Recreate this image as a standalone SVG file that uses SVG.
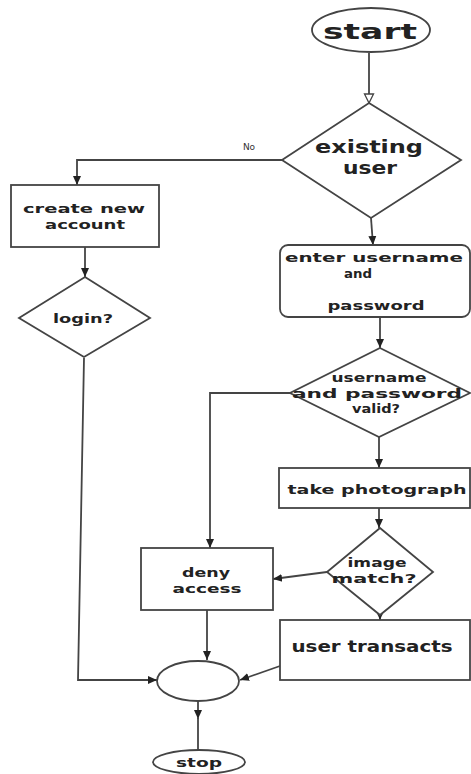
<svg xmlns="http://www.w3.org/2000/svg" width="471" height="774" viewBox="0 0 471 774">
<style>
.shape{fill:#fff;stroke:#444;stroke-width:1.8}
.conn{fill:none;stroke:#444;stroke-width:1.8}
.t{font-family:"DejaVu Sans",sans-serif;font-weight:bold;fill:#222;text-anchor:middle}
</style>
<defs>
<marker id="arr" markerUnits="userSpaceOnUse" markerWidth="10" markerHeight="10" refX="9" refY="5" orient="auto">
<path d="M0,1 L9,5 L0,9 Z" fill="#222"/>
</marker>
<marker id="hollow" markerUnits="userSpaceOnUse" markerWidth="12" markerHeight="12" refX="10" refY="6" orient="auto">
<path d="M1,1.5 L10,6 L1,10.5 Z" fill="#fff" stroke="#444" stroke-width="1.3"/>
</marker>
</defs>
<rect width="471" height="774" fill="#fff"/>
<g id="connectors">
<path class="conn" d="M369,53 L369,103" marker-end="url(#hollow)"/>
<path class="conn" d="M282,160 L77,160 L77,185" marker-end="url(#arr)"/>
<path class="conn" d="M85,247 L85,277" marker-end="url(#arr)"/>
<path class="conn" d="M84,358 L78,680 L157,680" marker-end="url(#arr)"/>
<path class="conn" d="M371,218 L373,245" marker-end="url(#arr)"/>
<path class="conn" d="M380,317 L380,348" marker-end="url(#arr)"/>
<path class="conn" d="M290,393 L210,393 L210,548" marker-end="url(#arr)"/>
<path class="conn" d="M379,437 L379,468" marker-end="url(#arr)"/>
<path class="conn" d="M379,508 L379,528" marker-end="url(#arr)"/>
<path class="conn" d="M327,572 L273,579" marker-end="url(#arr)"/>
<path class="conn" d="M380,612 L380,620" marker-end="url(#arr)"/>
<path class="conn" d="M207,610 L207,660" marker-end="url(#arr)"/>
<path class="conn" d="M280,666 L240,680" marker-end="url(#arr)"/>
<path class="conn" d="M198,701 L198,719" marker-end="url(#arr)"/>
<path class="conn" d="M198,717 L198,750"/>
<text x="249" y="150" font-family="DejaVu Sans, sans-serif" font-size="9" fill="#333" text-anchor="middle">No</text>
</g>
<g id="start">
<ellipse class="shape" cx="371" cy="30" rx="59" ry="22"/>
<text class="t" x="370" y="39" font-size="22" textLength="94" lengthAdjust="spacingAndGlyphs">start</text>
</g>
<g id="existing">
<polygon class="shape" points="369,103 461,160 371,218 282,160"/>
<text class="t" x="369" y="153" font-size="17" textLength="108" lengthAdjust="spacingAndGlyphs">existing</text>
<text class="t" x="370" y="174" font-size="17" textLength="54" lengthAdjust="spacingAndGlyphs">user</text>
</g>
<g id="create">
<rect class="shape" x="11" y="185" width="148" height="62"/>
<text class="t" x="84" y="213" font-size="12" textLength="122" lengthAdjust="spacingAndGlyphs">create new</text>
<text class="t" x="85" y="229" font-size="12" textLength="80" lengthAdjust="spacingAndGlyphs">account</text>
</g>
<g id="login">
<polygon class="shape" points="85,277 150,318 84,357 19,318"/>
<text class="t" x="83" y="323" font-size="13" textLength="60" lengthAdjust="spacingAndGlyphs">login?</text>
</g>
<g id="enter">
<rect class="shape" x="280" y="245" width="190" height="72" rx="8"/>
<text class="t" x="374" y="262" font-size="13" textLength="178" lengthAdjust="spacingAndGlyphs">enter username</text>
<text class="t" x="358" y="278" font-size="13" textLength="28" lengthAdjust="spacingAndGlyphs">and</text>
<text class="t" x="376" y="310" font-size="13" textLength="97" lengthAdjust="spacingAndGlyphs">password</text>
</g>
<g id="valid">
<polygon class="shape" points="380,348 470,393 379,437 290,393"/>
<text class="t" x="379" y="382" font-size="12" textLength="95" lengthAdjust="spacingAndGlyphs">username</text>
<text class="t" x="377" y="398" font-size="12" textLength="170" lengthAdjust="spacingAndGlyphs">and password</text>
<text class="t" x="376" y="413" font-size="12" textLength="48" lengthAdjust="spacingAndGlyphs">valid?</text>
</g>
<g id="photo">
<rect class="shape" x="279" y="468" width="191" height="40"/>
<text class="t" x="377" y="494" font-size="13" textLength="179" lengthAdjust="spacingAndGlyphs">take photograph</text>
</g>
<g id="image">
<polygon class="shape" points="380,528 433,572 380,615 327,572"/>
<text class="t" x="377" y="567" font-size="13" textLength="59" lengthAdjust="spacingAndGlyphs">image</text>
<text class="t" x="374" y="583" font-size="13" textLength="85" lengthAdjust="spacingAndGlyphs">match?</text>
</g>
<g id="deny">
<rect class="shape" x="141" y="548" width="132" height="62"/>
<text class="t" x="206" y="577" font-size="13" textLength="48" lengthAdjust="spacingAndGlyphs">deny</text>
<text class="t" x="207" y="593" font-size="13" textLength="69" lengthAdjust="spacingAndGlyphs">access</text>
</g>
<g id="transacts">
<rect class="shape" x="280" y="620" width="190" height="60"/>
<text class="t" x="372" y="652" font-size="16" textLength="161" lengthAdjust="spacingAndGlyphs">user transacts</text>
</g>
<g id="merge">
<ellipse class="shape" cx="198" cy="681" rx="41" ry="20"/>
</g>
<g id="stop">
<ellipse class="shape" cx="199" cy="762" rx="46" ry="12"/>
<text class="t" x="199" y="767" font-size="12" textLength="46" lengthAdjust="spacingAndGlyphs">stop</text>
</g>
</svg>
